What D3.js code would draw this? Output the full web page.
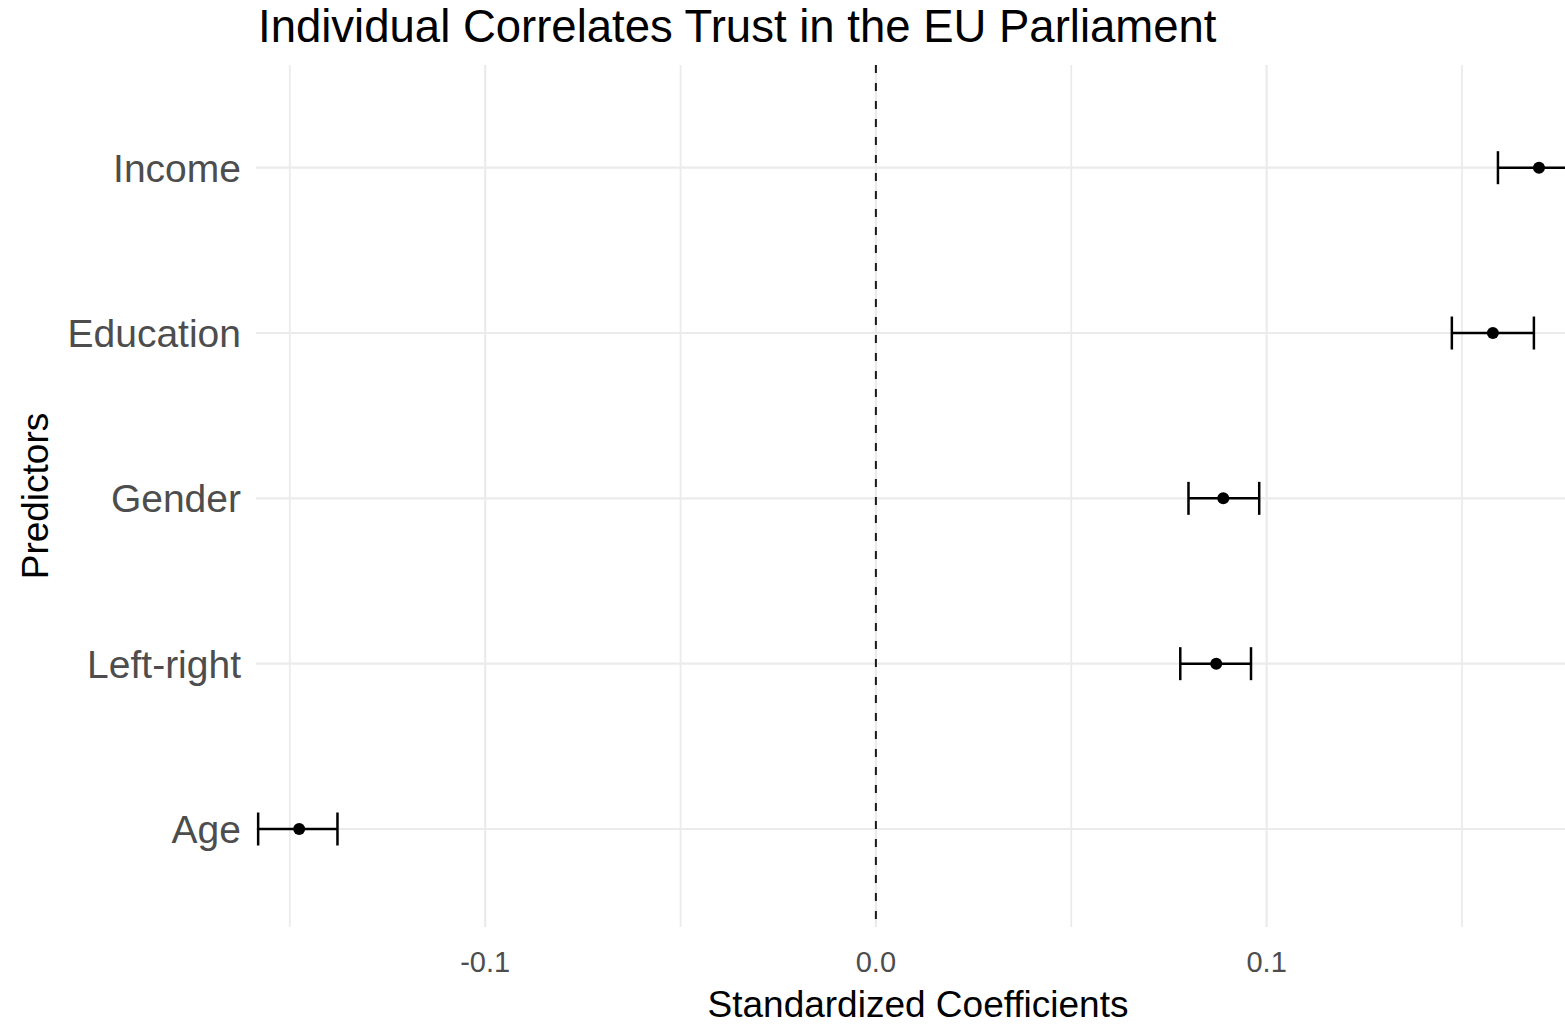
<!DOCTYPE html>
<html>
<head>
<meta charset="utf-8">
<script src="https://cdn.jsdelivr.net/npm/d3@7"></script>
<style>
  html, body { margin: 0; padding: 0; background: #fff; }
  svg { display: block; font-family: "Liberation Sans", Arial, sans-serif; }
</style>
</head>
<body>
<svg id="chart" width="1565" height="1025"></svg>
<script>
// ---- data ----
const predictors = ["Income", "Education", "Gender", "Left-right", "Age"];
const estimates  = [0.1697, 0.1579, 0.0889, 0.0871, -0.1476];
const lowers     = [0.1592, 0.1474, 0.0800, 0.0779, -0.1581];
const uppers     = [0.1802, 0.1684, 0.0981, 0.0960, -0.1378];
const majorTicks = [-0.1, 0.0, 0.1];
const minorTicks = [-0.15, -0.05, 0.05, 0.15];
const tickLabels = ["-0.1", "0.0", "0.1"];
const title = "Individual Correlates Trust in the EU Parliament";
const xTitle = "Standardized Coefficients";
const yTitle = "Predictors";

const rows = predictors.map((p, i) => ({ p, est: estimates[i], lo: lowers[i], hi: uppers[i] }));

// ---- layout ----
const panel = { left: 256, right: 1565, top: 65, bottom: 927 };
const svg = d3.select("#chart");

const x = d3.scaleLinear()
  .domain([-0.15865, 0.17636])
  .range([panel.left, panel.right]);

const y = d3.scalePoint()
  .domain(predictors)
  .range([68.5, 928.2])
  .padding(0.6);

svg.append("defs").append("clipPath").attr("id", "panelClip")
  .append("rect")
  .attr("x", panel.left).attr("y", panel.top - 20)
  .attr("width", panel.right - panel.left).attr("height", panel.bottom - panel.top + 40);

const grid = svg.append("g");
// minor vertical gridlines
grid.selectAll("line.minor").data(minorTicks).join("line")
  .attr("x1", d => x(d)).attr("x2", d => x(d))
  .attr("y1", panel.top).attr("y2", panel.bottom)
  .attr("stroke", "#ebebeb").attr("stroke-width", 1.8);
// major vertical gridlines
grid.selectAll("line.major").data(majorTicks).join("line")
  .attr("x1", d => x(d)).attr("x2", d => x(d))
  .attr("y1", panel.top).attr("y2", panel.bottom)
  .attr("stroke", "#ebebeb").attr("stroke-width", 2.2);
// horizontal gridlines
grid.selectAll("line.h").data(predictors).join("line")
  .attr("x1", panel.left).attr("x2", panel.right)
  .attr("y1", d => y(d)).attr("y2", d => y(d))
  .attr("stroke", "#ebebeb").attr("stroke-width", 2.2);

// zero reference line
svg.append("line")
  .attr("x1", x(0)).attr("x2", x(0))
  .attr("y1", panel.top).attr("y2", panel.bottom)
  .attr("stroke", "#1a1a1a").attr("stroke-width", 2)
  .attr("stroke-dasharray", "8,10");

// error bars + points
const marks = svg.append("g").attr("clip-path", "url(#panelClip)");
const capH = 16.5;
const sw = 2.5;
const eb = marks.selectAll("g.eb").data(rows).join("g");
eb.append("line")
  .attr("x1", d => x(d.lo)).attr("x2", d => x(d.hi))
  .attr("y1", d => y(d.p)).attr("y2", d => y(d.p))
  .attr("stroke", "#000").attr("stroke-width", sw);
eb.append("line")
  .attr("x1", d => x(d.lo)).attr("x2", d => x(d.lo))
  .attr("y1", d => y(d.p) - capH).attr("y2", d => y(d.p) + capH)
  .attr("stroke", "#000").attr("stroke-width", sw);
eb.append("line")
  .attr("x1", d => x(d.hi)).attr("x2", d => x(d.hi))
  .attr("y1", d => y(d.p) - capH).attr("y2", d => y(d.p) + capH)
  .attr("stroke", "#000").attr("stroke-width", sw);
eb.append("circle")
  .attr("cx", d => x(d.est)).attr("cy", d => y(d.p))
  .attr("r", 6).attr("fill", "#000");

// y axis labels
svg.append("g").selectAll("text").data(predictors).join("text")
  .attr("x", 241).attr("y", d => y(d))
  .attr("dy", "0.36em")
  .attr("text-anchor", "end")
  .attr("fill", "#4d4d4d")
  .attr("font-size", 39)
  .text(d => d);

// x axis labels
svg.append("g").selectAll("text").data(majorTicks).join("text")
  .attr("x", d => x(d)).attr("y", 972)
  .attr("text-anchor", "middle")
  .attr("fill", "#4d4d4d")
  .attr("font-size", 29)
  .text((d, i) => tickLabels[i]);

// axis titles
svg.append("text")
  .attr("x", (panel.left + 1580) / 2).attr("y", 1017)
  .attr("text-anchor", "middle")
  .attr("fill", "#000")
  .attr("font-size", 37)
  .text(xTitle);

svg.append("text")
  .attr("transform", `translate(48, ${(panel.top + panel.bottom) / 2}) rotate(-90)`)
  .attr("text-anchor", "middle")
  .attr("fill", "#000")
  .attr("font-size", 37)
  .text(yTitle);

// title
svg.append("text")
  .attr("x", 258).attr("y", 42)
  .attr("fill", "#000")
  .attr("font-size", 45.5)
  .text(title);
</script>
</body>
</html>
